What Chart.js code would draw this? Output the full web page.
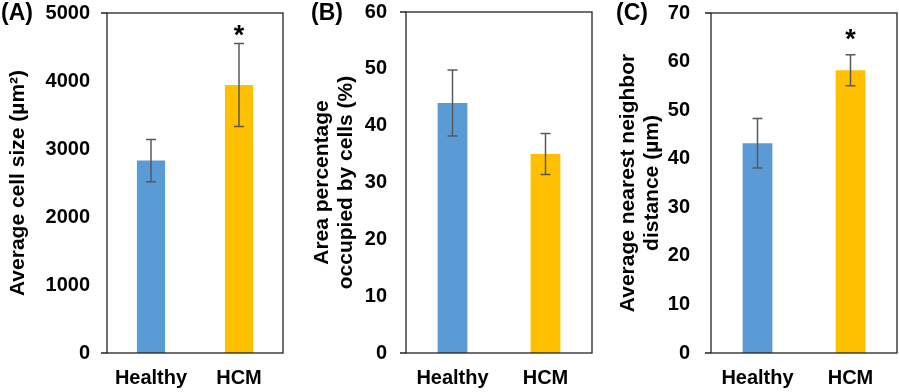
<!DOCTYPE html>
<html>
<head>
<meta charset="utf-8">
<script src="https://cdn.jsdelivr.net/npm/chart.js@4"></script>
<style>
  body { margin: 0; background: #fff; }
  #wrap { position: relative; width: 899px; height: 392px; }
  canvas { position: absolute; top: 0; }
</style>
</head>
<body>
<div id="wrap">
  <canvas id="chart-a" width="300" height="392" style="left:0"></canvas>
  <canvas id="chart-b" width="300" height="392" style="left:300px"></canvas>
  <canvas id="chart-c" width="299" height="392" style="left:600px"></canvas>
</div>
<script>
const groups = ['Healthy', 'HCM'];
const barColors = ['#5B9BD5', '#FFC000'];

// (A) average cell size
const cellSize = [2830, 3940];
const cellSizeErr = [310, 610];
const cellSizeSig = ['', '*'];

// (B) area percentage
const areaPct = [44.0, 35.0];
const areaPctErr = [5.8, 3.6];
const areaPctSig = ['', ''];

// (C) nearest neighbor distance
const nnDist = [43.2, 58.2];
const nnDistErr = [5.1, 3.2];
const nnDistSig = ['', '*'];

const FONT = '"Liberation Sans", Arial, sans-serif';

const panelPlugin = {
    id: 'panelExtras',
    afterDraw(chart, args, opts) {
        const ctx = chart.ctx;
        const area = chart.chartArea;
        const y = chart.scales.y;
        const meta = chart.getDatasetMeta(0);
        ctx.save();

        // error bars
        ctx.strokeStyle = '#595959';
        ctx.lineWidth = 1.5;
        meta.data.forEach((bar, i) => {
            const v = chart.data.datasets[0].data[i];
            const e = opts.err[i];
            const yt = y.getPixelForValue(v + e);
            const yb = y.getPixelForValue(v - e);
            ctx.beginPath();
            ctx.moveTo(bar.x, yt); ctx.lineTo(bar.x, yb);
            ctx.moveTo(bar.x - 5, yt); ctx.lineTo(bar.x + 5, yt);
            ctx.moveTo(bar.x - 5, yb); ctx.lineTo(bar.x + 5, yb);
            ctx.stroke();

            if (opts.sig[i]) {
                ctx.fillStyle = '#000';
                ctx.font = 'bold 27px ' + FONT;
                ctx.textAlign = 'center';
                ctx.textBaseline = 'alphabetic';
                ctx.fillText(opts.sig[i], bar.x, yt + opts.sigGap);
            }
        });

        // plot box
        ctx.strokeStyle = '#222';
        ctx.lineWidth = 1.3;
        ctx.strokeRect(area.left, area.top, area.right - area.left, area.bottom - area.top);
        ctx.beginPath();
        ctx.moveTo(area.left - 6, area.top); ctx.lineTo(area.left, area.top);
        ctx.moveTo(area.left - 6, area.bottom); ctx.lineTo(area.left, area.bottom);
        ctx.stroke();

        // panel letter
        ctx.fillStyle = '#000';
        ctx.font = 'bold 23px ' + FONT;
        ctx.textAlign = 'left';
        ctx.textBaseline = 'middle';
        ctx.fillText(opts.label, opts.labelX, 14);
        ctx.restore();
    }
};

function makePanel(id, {values, err, sig, sigGap, label, labelX, title, titlePad, tickPad, max, step, box}) {
    const canvas = document.getElementById(id);
    const [left, top, right, bottom] = box;
    return new Chart(canvas, {
        type: 'bar',
        data: {
            labels: groups,
            datasets: [{
                data: values,
                backgroundColor: barColors,
                categoryPercentage: 1,
                barPercentage: 0.32
            }]
        },
        options: {
            responsive: false,
            animation: false,
            devicePixelRatio: 1,
            layout: { padding: { left: 0, top: top, right: canvas.width - right, bottom: 0 } },
            plugins: {
                legend: { display: false },
                tooltip: { enabled: false },
                panelExtras: { err, sig, sigGap, label, labelX }
            },
            scales: {
                x: {
                    grid: { display: false, drawTicks: false },
                    border: { display: false },
                    ticks: { color: '#000', padding: 13, font: { family: FONT, size: 20, weight: 'bold' } },
                    afterFit(s) {
                        s.height = canvas.height - bottom;
                        s.paddingLeft = 0; s.paddingRight = 0;
                    }
                },
                y: {
                    min: 0,
                    max: max,
                    grid: { display: false, drawTicks: false },
                    border: { display: false },
                    ticks: {
                        stepSize: step,
                        color: '#000',
                        padding: tickPad,
                        font: { family: FONT, size: 20, weight: 'bold' },
                        callback: v => String(v)
                    },
                    title: {
                        display: true,
                        text: title,
                        color: '#000',
                        padding: { top: titlePad, bottom: 0 },
                        font: { family: FONT, size: 21, weight: 'bold', lineHeight: 1.17 }
                    },
                    afterFit(s) {
                        s.width = left;
                        s.paddingTop = 0; s.paddingBottom = 0;
                    }
                }
            }
        },
        plugins: [panelPlugin]
    });
}

makePanel('chart-a', {
    values: cellSize, err: cellSizeErr, sig: cellSizeSig, sigGap: 0,
    label: '(A)', labelX: 1,
    title: 'Average cell size (µm²)', titlePad: 5.7, tickPad: 17,
    max: 5000, step: 1000,
    box: [107, 13, 283, 353]
});

makePanel('chart-b', {
    values: areaPct, err: areaPctErr, sig: areaPctSig, sigGap: 0,
    label: '(B)', labelX: 11,
    title: ['Area percentage', 'occupied by cells (%)'], titlePad: 9.7, tickPad: 19,
    max: 60, step: 10,
    box: [106, 12, 292, 353]
});

makePanel('chart-c', {
    values: nnDist, err: nnDistErr, sig: nnDistSig, sigGap: -7,
    label: '(C)', labelX: 16,
    title: ['Average nearest neighbor', 'distance (µm)'], titlePad: 15.7, tickPad: 21,
    max: 70, step: 10,
    box: [111, 13, 297, 353]
});
</script>
</body>
</html>
